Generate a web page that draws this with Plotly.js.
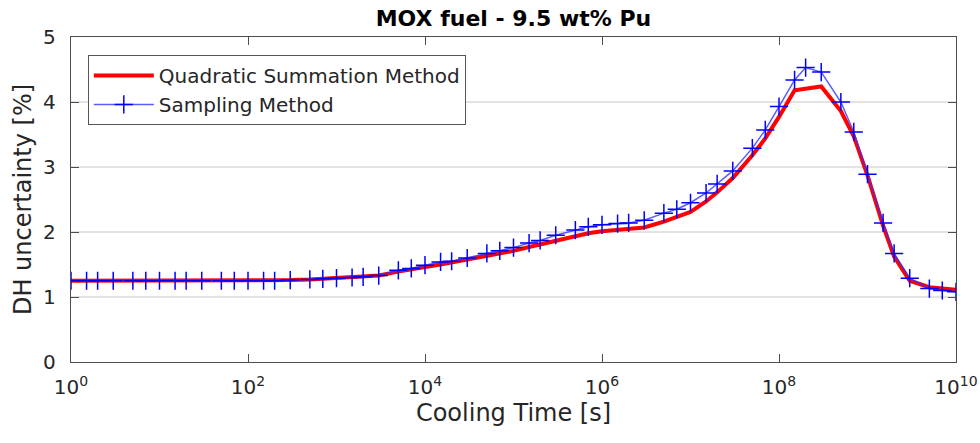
<!DOCTYPE html>
<html>
<head>
<meta charset="utf-8">
<script src="https://cdn.plot.ly/plotly-3.0.1.min.js"></script>
<style>html,body{margin:0;padding:0;background:#fff;}#chart{width:980px;height:443px;}</style>
</head>
<body>
<div id="chart"></div>
<script>
// Cooling times [s]: 1, 1.5, 2, 3, 5, 7 per decade
const coolingTime = [
  1, 1.5, 2, 3, 5, 7,
  10, 15, 20, 30, 50, 70,
  100, 150, 200, 300, 500, 700,
  1e3, 1.5e3, 2e3, 3e3, 5e3, 7e3,
  1e4, 1.5e4, 2e4, 3e4, 5e4, 7e4,
  1e5, 1.5e5, 2e5, 3e5, 5e5, 7e5,
  1e6, 1.5e6, 2e6, 3e6, 5e6, 7e6,
  1e7, 1.5e7, 2e7, 3e7, 5e7, 7e7,
  1e8, 1.5e8, 2e8, 3e8, 5e8, 7e8,
  1e9, 1.5e9, 2e9, 3e9, 5e9, 7e9,
  1e10
];
const quadraticSummation = [
  1.25, 1.25, 1.25, 1.25, 1.25, 1.25,
  1.25, 1.25, 1.25, 1.25, 1.25, 1.25,
  1.25, 1.25, 1.25, 1.26, 1.27, 1.28,
  1.29, 1.30, 1.31, 1.33, 1.39, 1.43,
  1.46, 1.50, 1.53, 1.57, 1.63, 1.67,
  1.71, 1.77, 1.81, 1.86, 1.93, 1.98,
  2.01, 2.03, 2.04, 2.07, 2.16, 2.23,
  2.31, 2.47, 2.61, 2.83, 3.18, 3.44,
  3.77, 4.18, 4.21, 4.24, 3.86, 3.47,
  2.87, 2.10, 1.62, 1.25, 1.15, 1.13,
  1.11
];
const samplingMethod = [
  1.25, 1.25, 1.25, 1.25, 1.25, 1.25,
  1.25, 1.25, 1.25, 1.25, 1.25, 1.25,
  1.25, 1.25, 1.25, 1.26, 1.27, 1.28,
  1.29, 1.30, 1.31, 1.33, 1.41, 1.44,
  1.49, 1.54, 1.55, 1.60, 1.67, 1.71,
  1.76, 1.83, 1.87, 1.95, 2.03, 2.08,
  2.11, 2.13, 2.14, 2.18, 2.29, 2.35,
  2.45, 2.60, 2.74, 2.94, 3.29, 3.57,
  3.93, 4.34, 4.53, 4.46, 4.00, 3.54,
  2.89, 2.14, 1.67, 1.29, 1.13, 1.10,
  1.08
];
const xTickVals = [1, 1e2, 1e4, 1e6, 1e8, 1e10];
const xTickText = ['10<sup>0</sup>', '10<sup>2</sup>', '10<sup>4</sup>', '10<sup>6</sup>', '10<sup>8</sup>', '10<sup>10</sup>'];
const yTickVals = [0, 1, 2, 3, 4, 5];

const FONT = 'DejaVu Sans, sans-serif';
const TXT = '#262626';

const traces = [
  {
    x: coolingTime, y: quadraticSummation,
    name: 'Quadratic Summation Method',
    type: 'scatter', mode: 'lines',
    line: {color: '#ff0000', width: 4}
  },
  {
    x: coolingTime, y: samplingMethod,
    name: 'Sampling Method',
    type: 'scatter', mode: 'lines+markers',
    line: {color: 'rgba(50,50,255,0.8)', width: 1.5},
    marker: {symbol: 'cross-thin-open', size: 13, color: '#0000ff', line: {color: '#0000ff', width: 1.5}}
  }
];

const layout = {
  width: 980, height: 443,
  margin: {l: 71, r: 24, t: 37, b: 81},
  paper_bgcolor: '#ffffff',
  plot_bgcolor: '#ffffff',
  font: {family: FONT, color: TXT, size: 19},
  title: {
    text: '<b>MOX fuel - 9.5 wt% Pu</b>',
    x: (71 + 885 / 2) / 980, xanchor: 'center',
    y: 1 - 18 / 443, yanchor: 'middle',
    font: {family: FONT, size: 22, color: '#000000'}
  },
  xaxis: {
    type: 'log',
    range: [0, 10],
    tickvals: xTickVals, ticktext: xTickText,
    ticks: 'inside', ticklen: 8, tickwidth: 1, tickcolor: '#4d4d4d',
    showline: true, linecolor: '#4d4d4d', linewidth: 1.2, mirror: 'ticks',
    showgrid: false, zeroline: false,
    ticklabelstandoff: 7,
    tickfont: {family: FONT, size: 20, color: TXT},
    title: {text: 'Cooling Time [s]', font: {family: FONT, size: 24, color: TXT}, standoff: 2}
  },
  yaxis: {
    range: [0, 5],
    tickvals: yTickVals,
    ticks: 'inside', ticklen: 8, tickwidth: 1, tickcolor: '#4d4d4d',
    showline: true, linecolor: '#4d4d4d', linewidth: 1.2, mirror: 'ticks',
    showgrid: true, gridcolor: '#e3e3e3', gridwidth: 1.2,
    zeroline: false,
    ticklabelstandoff: 10,
    tickfont: {family: FONT, size: 20, color: TXT},
    title: {text: 'DH uncertainty [%]', font: {family: FONT, size: 24, color: TXT}, standoff: 4}
  },
  legend: {
    x: 0.019, y: 0.945, xanchor: 'left', yanchor: 'top',
    bgcolor: '#ffffff', bordercolor: '#555555', borderwidth: 1,
    font: {family: FONT, size: 20, color: TXT},
    tracegroupgap: 0, itemwidth: 60
  },
  showlegend: true
};

Plotly.newPlot('chart', traces, layout, {displayModeBar: false, staticPlot: true});
</script>
</body>
</html>
